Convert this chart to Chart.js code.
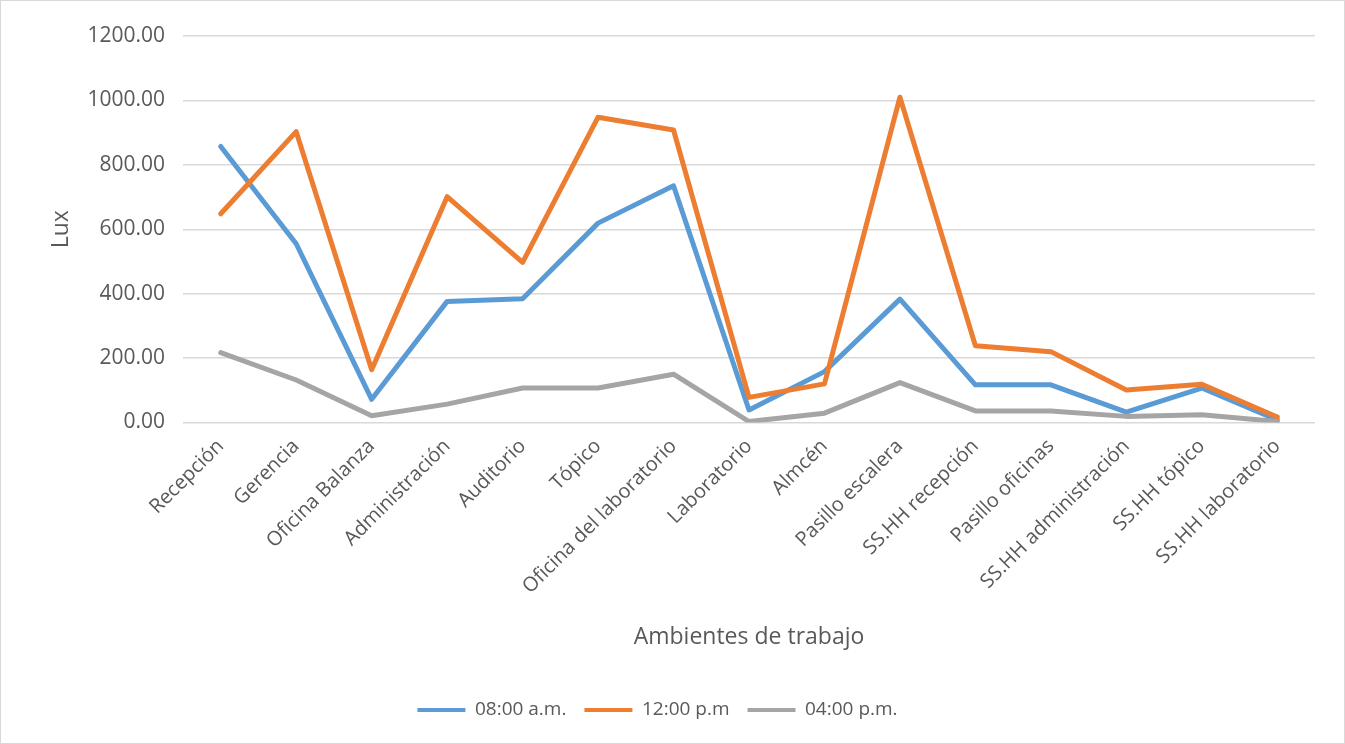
<!DOCTYPE html>
<html>
<head>
<meta charset="utf-8">
<script src="https://cdn.jsdelivr.net/npm/chart.js@4"></script>
<style>
  html, body { margin: 0; padding: 0; background: #fff; }
  #wrap { width: 1345px; height: 744px; }
</style>
</head>
<body>
<div id="wrap"><canvas id="chartLux"></canvas></div>
<script>
// ----- DATOS -----
const ambientes = ["Recepción", "Gerencia", "Oficina Balanza", "Administración", "Auditorio", "Tópico",
    "Oficina del laboratorio", "Laboratorio", "Almcén", "Pasillo escalera", "SS.HH recepción",
    "Pasillo oficinas", "SS.HH administración", "SS.HH tópico", "SS.HH laboratorio"];
const luxManana = [857, 555, 72, 376, 384, 619, 735, 39, 158, 383, 117, 117, 32, 107, 8];
const luxMediodia = [648, 903, 164, 701, 497, 948, 908, 78, 120, 1010, 238, 220, 101, 119, 17];
const luxTarde = [217, 132, 21, 57, 107, 107, 150, 3, 29, 124, 36, 36, 19, 24, 3];
const yTicks = [0, 200, 400, 600, 800, 1000, 1200];

const FONT = "'Open Sans', 'Noto Sans', sans-serif";
const TXT = "#595959";

// borde del gráfico
const borderPlugin = {
    id: "borde",
    afterDraw(chart) {
        const ctx = chart.ctx;
        ctx.save();
        ctx.strokeStyle = "#d9d9d9";
        ctx.lineWidth = 1;
        ctx.strokeRect(0.5, 0.5, chart.width - 1, chart.height - 1);
        ctx.restore();
    }
};

const serie = (label, data, color, order) => ({
    label, data, order,
    borderColor: color,
    backgroundColor: color,
    borderWidth: 5,
    pointRadius: 0,
    pointHoverRadius: 0,
    tension: 0,
    borderCapStyle: "round",
    borderJoinStyle: "round",
    fill: false
});

new Chart(document.getElementById("chartLux"), {
    type: "line",
    data: {
        labels: ambientes,
        datasets: [
            serie("08:00 a.m.", luxManana, "#5b9bd5", 3),
            serie("12:00 p.m", luxMediodia, "#ed7d31", 2),
            serie("04:00 p.m.", luxTarde, "#a5a5a5", 1)
        ]
    },
    options: {
        responsive: true,
        maintainAspectRatio: false,
        animation: false,
        layout: { padding: { top: 36, right: 30, bottom: 14.5, left: 0 } },
        plugins: {
            legend: {
                position: "bottom",
                labels: {
                    boxWidth: 48,
                    boxHeight: 4,
                    padding: 18,
                    color: TXT,
                    font: { family: FONT, size: 19 },
                    sort: (a, b) => a.datasetIndex - b.datasetIndex,
                    generateLabels: chart => Chart.defaults.plugins.legend.labels.generateLabels(chart)
                        .map(l => ({ ...l, lineWidth: 0 }))
                }
            },
            tooltip: { enabled: false }
        },
        scales: {
            x: {
                offset: true,
                grid: { display: false },
                border: { display: false },
                ticks: {
                    color: TXT,
                    minRotation: 45,
                    maxRotation: 45,
                    padding: 4,
                    font: { family: FONT, size: 20 }
                },
                title: {
                    display: true,
                    text: "Ambientes de trabajo",
                    color: TXT,
                    padding: { top: 0, bottom: 31 },
                    font: { family: FONT, size: 23 }
                },
                afterFit(axis) { axis.height = 260; }
            },
            y: {
                min: 0,
                max: 1200,
                afterBuildTicks(axis) { axis.ticks = yTicks.map(v => ({ value: v })); },
                grid: { color: "#d9d9d9", lineWidth: 1.5, drawTicks: false },
                border: { display: false },
                ticks: {
                    color: TXT,
                    padding: 18,
                    font: { family: FONT, size: 21 },
                    callback: v => Number(v).toFixed(2)
                },
                title: {
                    display: true,
                    text: "Lux",
                    color: TXT,
                    padding: { top: 48, bottom: 0 },
                    font: { family: FONT, size: 23 }
                },
                afterFit(axis) { axis.width = 183; }
            }
        }
    },
    plugins: [borderPlugin]
});
</script>
</body>
</html>
